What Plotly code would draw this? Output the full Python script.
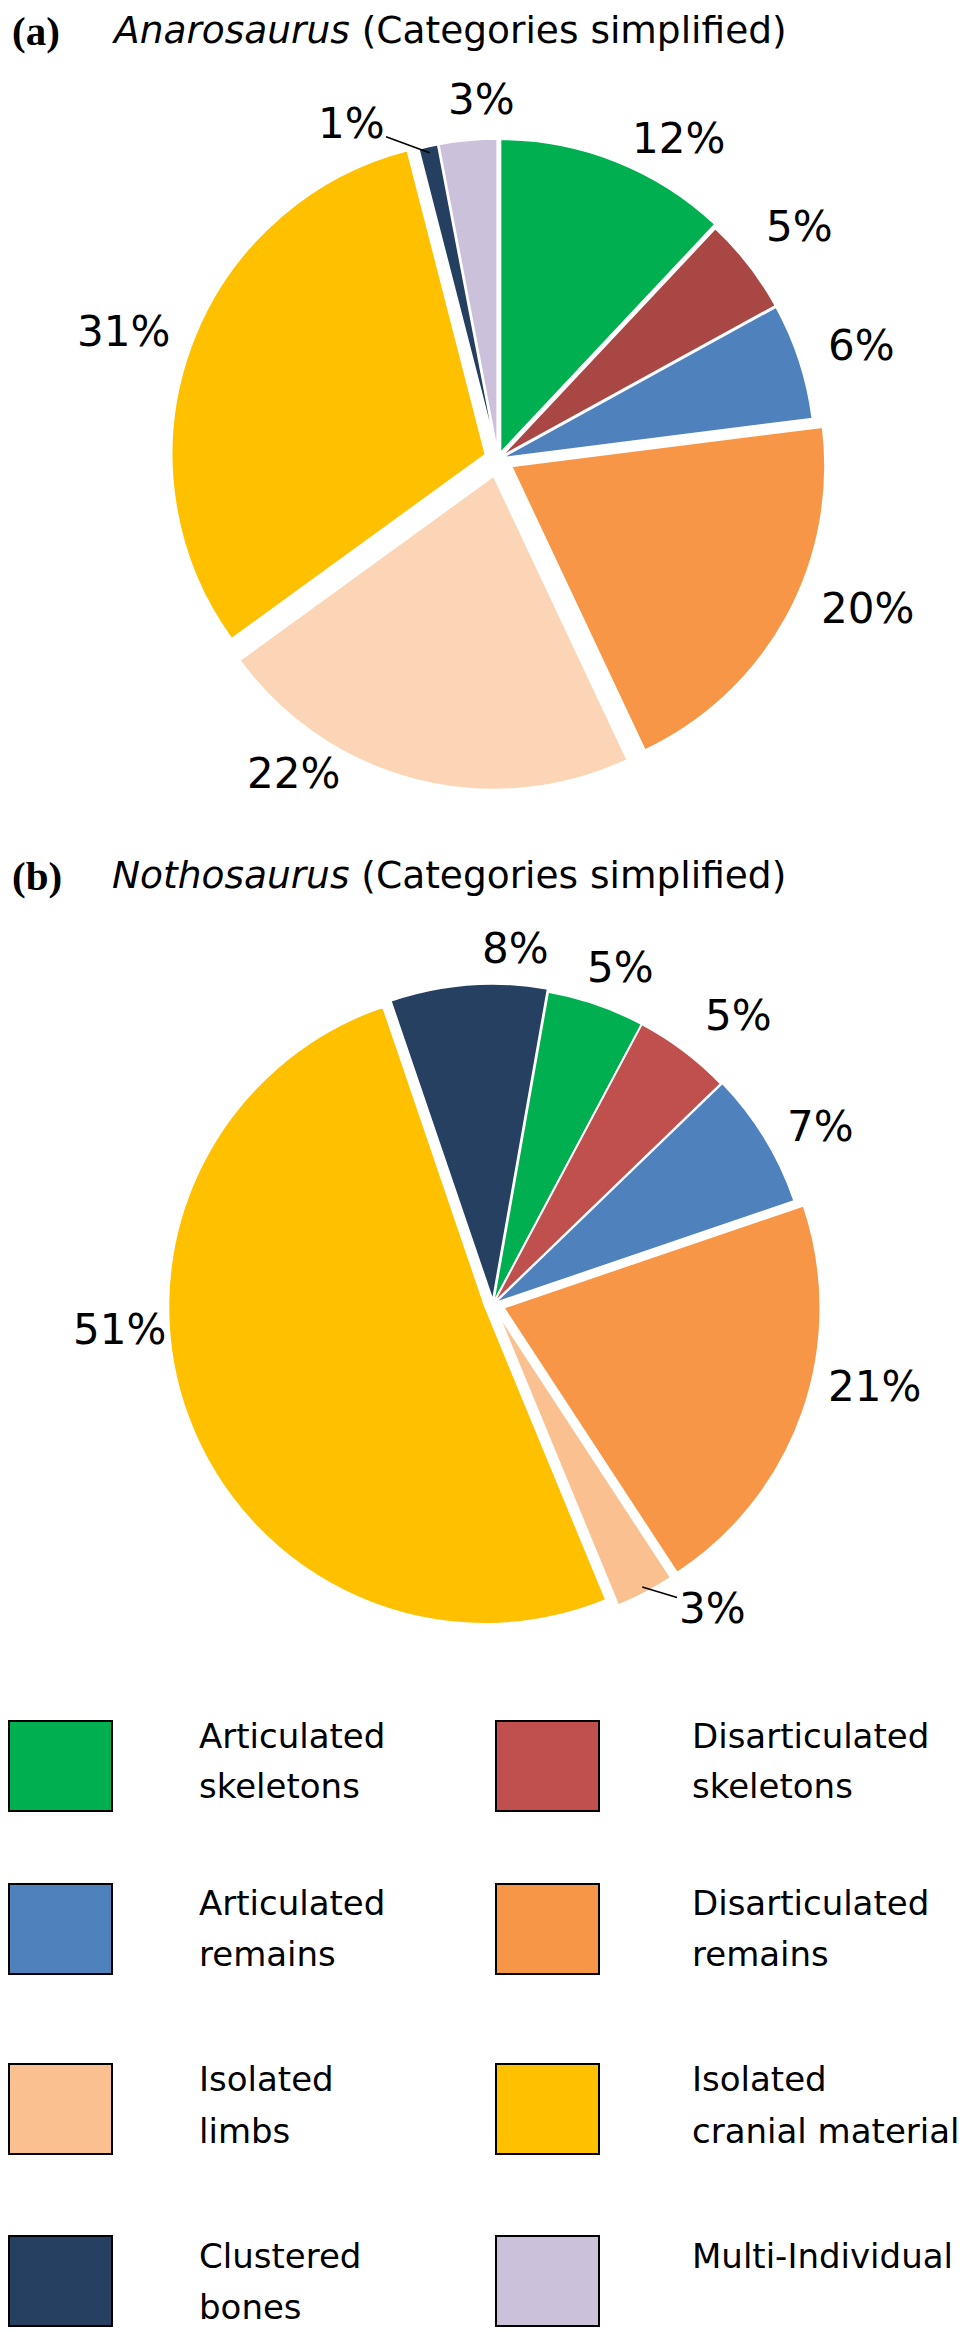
import math
import plotly.graph_objects as go

W, H = 969, 2332

# categories in legend order
categories = [
    "Articulated skeletons", "Disarticulated skeletons",
    "Articulated remains", "Disarticulated remains",
    "Isolated limbs", "Isolated cranial material",
    "Clustered bones", "Multi-Individual",
]
legend_lines = [
    ["Articulated", "skeletons"], ["Disarticulated", "skeletons"],
    ["Articulated", "remains"], ["Disarticulated", "remains"],
    ["Isolated", "limbs"], ["Isolated", "cranial material"],
    ["Clustered", "bones"], ["Multi-Individual"],
]
legend_colors = ["#00B050", "#C0504D", "#4F81BD", "#F79646",
                 "#FAC090", "#FFC000", "#254061", "#CCC1DA"]

# (a) Anarosaurus, percent of specimens
anaro_labels = categories
anaro_values = [12, 5, 6, 20, 22, 31, 1, 3]
anaro_colors = ["#00B050", "#A94744", "#4F81BD", "#F79646",
                "#FBD5B5", "#FFC000", "#243F60", "#CCC1DA"]

# (b) Nothosaurus, percent of specimens (no multi-individual finds)
notho_labels = categories[:7]
notho_values = [5, 5, 7, 21, 3, 51, 8]
notho_colors = ["#00B050", "#C0504D", "#4F81BD", "#F79646",
                "#FAC090", "#FFC000", "#254061"]

FONT = "DejaVu Sans"
LABEL_SIZE = 42
LABEL_SHIFT = (-7, -7)  # small nudge of all percent labels, px


def px_x(x):
    return x / W


def px_y(y):
    return 1 - y / H


def pie_box(cx, cy, r, pulls):
    # plotly: r = min(w, h) / (2 + 2 * maxPull)
    half = r * (1 + max(pulls))
    return dict(x=[px_x(cx - half), px_x(cx + half)],
                y=[px_y(cy + half), px_y(cy - half)])


def pie_labels(values, rotation, cx, cy, r, pulls, nudges, dists, arrows):
    """percent labels placed around the pie, Excel 'best fit' style"""
    out = []
    total = float(sum(values))
    start = rotation
    for i, v in enumerate(values):
        span = 360.0 * v / total
        mid = start + span / 2
        start += span
        ang = math.radians(mid + nudges[i])
        tx = cx + r * dists[i] * math.sin(ang) + LABEL_SHIFT[0]
        ty = cy - r * dists[i] * math.cos(ang) + LABEL_SHIFT[1]
        txt = "%d%%" % round(100 * v / total)
        font = dict(family=FONT, size=LABEL_SIZE, color="black")
        if arrows[i]:
            a = math.radians(mid)
            d = r * (1 + pulls[i]) * 0.98
            hx = cx + d * math.sin(a)
            hy = cy - d * math.cos(a)
            out.append(dict(
                text=txt, x=px_x(hx), y=px_y(hy), xref="paper", yref="paper",
                ax=tx - hx, ay=ty - hy, showarrow=True, arrowhead=0,
                arrowwidth=1.6, arrowcolor="black", standoff=0, font=font,
            ))
        else:
            out.append(dict(
                text=txt, x=px_x(tx), y=px_y(ty), xref="paper", yref="paper",
                xanchor="center", yanchor="middle", showarrow=False, font=font,
            ))
    return out


fig = go.Figure()
annotations = []

# (a) pie
a_cx, a_cy, a_r = 490, 451, 314
a_pull = [0.02, 0.01, 0.01, 0.048, 0.055, 0.042, 0.02, 0.02]
fig.add_trace(go.Pie(
    labels=anaro_labels,
    values=anaro_values,
    sort=False,
    direction="clockwise",
    rotation=0,
    marker=dict(colors=anaro_colors, line=dict(color="white", width=2)),
    pull=a_pull,
    textinfo="none",
    domain=pie_box(a_cx, a_cy, a_r, a_pull),
    hoverinfo="label+percent",
    showlegend=False,
))
annotations += pie_labels(
    anaro_values, 0, a_cx, a_cy, a_r, a_pull,
    nudges=[9.2, 1.7, 2.0, -6.3, 17.1, -1.6, -10.5, 3.8],
    dists=[1.164, 1.217, 1.226, 1.299, 1.202, 1.233, 1.136, 1.124],
    arrows=[False, False, False, False, False, False, True, False],
)

# (b) pie
b_cx, b_cy, b_r = 485, 1296, 317
b_pull = [0, 0, 0.005, 0.035, 0.03, 0.026, 0.01]
fig.add_trace(go.Pie(
    labels=notho_labels,
    values=notho_values,
    sort=False,
    direction="clockwise",
    rotation=10,
    marker=dict(colors=notho_colors, line=dict(color="white", width=2)),
    pull=b_pull,
    textinfo="none",
    domain=pie_box(b_cx, b_cy, b_r, b_pull),
    hoverinfo="label+percent",
    showlegend=False,
))
annotations += pie_labels(
    notho_values, 10, b_cx, b_cy, b_r, b_pull,
    nudges=[3.3, 4.9, 4.4, -6.0, -8.2, 15.6, 9.2],
    dists=[1.122, 1.195, 1.183, 1.259, 1.213, 1.159, 1.104],
    arrows=[False, False, False, False, True, False, False],
)

# panel titles
for tag, genus, yc in [("(a)", "Anarosaurus", 23), ("(b)", "Nothosaurus", 868)]:
    annotations.append(dict(
        text="<b>" + tag + "</b>", x=px_x(2), y=px_y(yc), xref="paper", yref="paper",
        xanchor="left", yanchor="middle", showarrow=False,
        font=dict(family="Liberation Serif", size=41, color="black"),
    ))
    annotations.append(dict(
        text="<i>" + genus + "</i> (Categories simplified)",
        x=px_x(102), y=px_y(yc - 1), xref="paper", yref="paper",
        xanchor="left", yanchor="middle", showarrow=False,
        font=dict(family=FONT, size=37.5, color="black"),
    ))

# custom legend: two columns, four rows
shapes = []
row_tops = [1713, 1876, 2056, 2228]
line_centers = [(1728, 1778), (1895, 1946), (2071, 2123), (2248, 2299)]
col_box_x = [0, 487]
col_text_x = [189, 682]
box_w, box_h = 104, 90
for i, (lines, col) in enumerate(zip(legend_lines, legend_colors)):
    r, c = divmod(i, 2)
    top = row_tops[r]
    shapes.append(dict(
        type="rect", xref="paper", yref="paper",
        x0=px_x(col_box_x[c] + 1), x1=px_x(col_box_x[c] + box_w),
        y0=px_y(top + box_h), y1=px_y(top),
        fillcolor=col, line=dict(color="black", width=2),
    ))
    for j, line in enumerate(lines):
        annotations.append(dict(
            text=line, x=px_x(col_text_x[c]), y=px_y(line_centers[r][j]),
            xref="paper", yref="paper", xanchor="left", yanchor="middle",
            showarrow=False,
            font=dict(family=FONT, size=34, color="black"),
        ))

fig.update_layout(
    width=W, height=H,
    margin=dict(l=0, r=0, t=0, b=0),
    paper_bgcolor="white",
    plot_bgcolor="white",
    showlegend=False,
    annotations=annotations,
    shapes=shapes,
)

fig.write_html("out.html")
